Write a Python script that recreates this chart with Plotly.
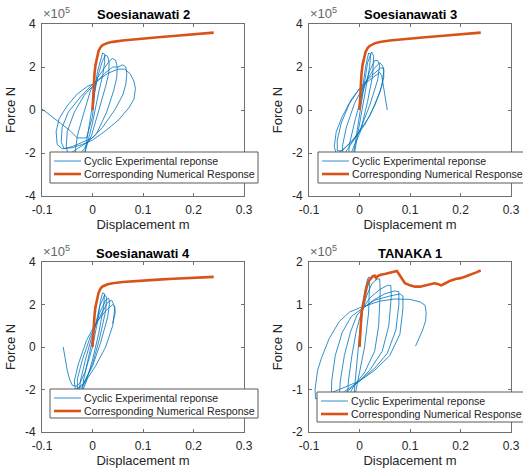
import plotly.graph_objects as go

W, H = 523, 470

titles = ["Soesianawati 2", "Soesianawati 3", "Soesianawati 4", "TANAKA 1"]
exp_name = "Cyclic Experimental reponse"
num_name = "Corresponding Numerical Response"
x_ticks = [-0.1, 0, 0.1, 0.2, 0.3]
x_ticktext = ["-0.1", "0", "0.1", "0.2", "0.3"]
y_ticks_a = [-4, -2, 0, 2, 4]
y_ticktext_a = ["-4", "-2", "0", "2", "4"]
y_ticks_b = [-2, -1, 0, 1, 2]
y_ticktext_b = ["-2", "-1", "0", "1", "2"]

# ---------------- Soesianawati 2 (force in 1e5 N) ----------------
s2_exp_x = [0, 0.004, 0.01, 0.016, 0.02, 0.024, 0.024, 0.02, 0.012, 0.0, -0.008, -0.014, -0.018, -0.014, -0.006, 0.004, 0.012,
            0.02, 0.026, 0.03, 0.033, 0.032, 0.026, 0.012, -0.002, -0.016, -0.03, -0.034, -0.03, -0.018, -0.004, 0.01, 0.024,
            0.034, 0.04, 0.046, 0.049, 0.048, 0.042, 0.028, 0.008, -0.01, -0.03, -0.048, -0.052, -0.05, -0.036, -0.016, 0.004, 0.024, 0.04,
            0.05, 0.06, 0.066, 0.068, 0.066, 0.06, 0.044, 0.02, 0.0, -0.02, -0.04, -0.056, -0.062, -0.06, -0.048, -0.024, 0.0, 0.03, 0.05,
            0.064, 0.074, 0.082, 0.085, 0.082, 0.072, 0.05, 0.024, 0.0, -0.02, -0.04, -0.06, -0.07, -0.072, -0.066, -0.05, -0.03, -0.01, 0.006,
            0.0, -0.012, -0.03, -0.045, -0.07, -0.1]
s2_exp_y = [0, 0.9, 1.8, 2.4, 2.65, 2.6, 2.2, 1.6, 0.8, -0.6, -1.4, -2.0, -2.3, -1.8, -0.6, 0.8, 1.7,
            2.3, 2.55, 2.5, 2.2, 1.7, 1.1, 0.0, -1.2, -1.8, -2.2, -1.9, -1.2, -0.2, 0.9, 1.5, 2.0,
            2.3, 2.4, 2.3, 2.0, 1.5, 0.9, -0.1, -1.1, -1.5, -1.8, -2.1, -1.7, -1.0, -0.1, 0.7, 1.2, 1.7, 2.0,
            2.0, 2.1, 2.0, 1.7, 1.2, 0.7, 0.0, -0.8, -1.3, -1.5, -1.7, -1.8, -1.5, -0.8, -0.1, 0.6, 1.2, 1.7, 1.9,
            1.9, 1.7, 1.35, 1.0, 0.5, 0.1, -0.5, -1.0, -1.4, -1.6, -1.75, -1.8, -1.6, -1.0, -0.4, 0.2, 0.75, 1.1, 1.25,
            -0.3, -1.3, -1.3, -0.95, -0.5, 0.05]
s2_num_x = [0, 0.001, 0.002, 0.004, 0.006, 0.009, 0.012, 0.016, 0.02, 0.03, 0.04, 0.06, 0.08, 0.1, 0.13, 0.16, 0.2, 0.24]
s2_num_y = [0, 0.6, 1.2, 1.7, 2.1, 2.5, 2.75, 2.92, 3.02, 3.12, 3.17, 3.23, 3.28, 3.32, 3.38, 3.44, 3.52, 3.6]

# ---------------- Soesianawati 3 ----------------
s3_exp_x = [0, 0.006, 0.012, 0.018, 0.022, 0.02, 0.01, 0.0, -0.01, -0.014, -0.01, 0.0, 0.008, 0.016,
            0.024, 0.028, 0.026, 0.016, 0.002, -0.016, -0.022, -0.02, -0.008, 0.006, 0.02, 0.03,
            0.036, 0.04, 0.036, 0.02, 0.0, -0.02, -0.032, -0.034, -0.026, -0.01, 0.01, 0.028, 0.04,
            0.046, 0.048, 0.044, 0.03, 0.01, -0.016, -0.036, -0.044, -0.044, -0.036, -0.02, 0.0, 0.024, 0.042,
            0.048, 0.048, 0.04, 0.02, -0.01, -0.03, -0.046, -0.05, -0.046, -0.034, -0.016, 0.004, 0.026, 0.04, 0.044, 0.048, 0.055]
s3_exp_y = [0, 1.0, 2.0, 2.65, 2.6, 2.0, 0.6, -0.8, -2.0, -2.4, -1.8, -0.3, 1.0, 2.2,
            2.7, 2.5, 1.6, 0.4, -1.0, -2.0, -2.3, -1.6, -0.4, 0.8, 1.8, 2.3,
            2.3, 2.1, 1.4, 0.2, -1.0, -1.7, -2.1, -1.7, -0.8, 0.3, 1.2, 1.9, 2.2,
            2.05, 1.8, 1.1, 0.2, -0.7, -1.5, -1.9, -1.9, -1.4, -0.6, 0.3, 1.0, 1.6, 1.95,
            1.95, 1.5, 0.8, -0.3, -1.3, -1.8, -2.05, -1.7, -1.0, -0.3, 0.5, 1.1, 1.5, 1.75, 1.6, 1.0, 0.0]
s3_num_x = [0, 0.001, 0.002, 0.004, 0.006, 0.009, 0.012, 0.016, 0.02, 0.03, 0.04, 0.06, 0.08, 0.1, 0.13, 0.16, 0.2, 0.24]
s3_num_y = [0, 0.6, 1.2, 1.7, 2.1, 2.45, 2.7, 2.88, 2.98, 3.1, 3.16, 3.23, 3.28, 3.32, 3.38, 3.44, 3.52, 3.6]

# ---------------- Soesianawati 4 ----------------
s4_exp_x = [-0.058, -0.055, -0.05, -0.045, -0.04, -0.032, -0.025,
            -0.015, 0.0, 0.01, 0.016, 0.02, 0.024, 0.022, 0.012, 0.0, -0.012, -0.02, -0.018, -0.008, 0.004, 0.014,
            0.024, 0.028, 0.026, 0.014, 0.0, -0.018, -0.026, -0.024, -0.014, 0.0, 0.014, 0.026,
            0.032, 0.034, 0.03, 0.016, 0.0, -0.02, -0.03, -0.03, -0.02, -0.004, 0.014, 0.03,
            0.038, 0.042, 0.044, 0.04, 0.026, 0.006, -0.016, -0.034, -0.036, -0.028, -0.012, 0.006, 0.026, 0.04, 0.044, 0.045, 0.04]
s4_exp_y = [0.0, -0.5, -1.1, -1.55, -1.8, -1.85, -1.7,
            -1.2, 0.0, 1.2, 2.2, 2.55, 2.5, 1.9, 0.6, -0.6, -1.6, -2.1, -1.6, -0.5, 0.8, 1.9,
            2.45, 2.35, 1.7, 0.4, -0.8, -1.8, -2.1, -1.6, -0.6, 0.6, 1.6, 2.2,
            2.3, 2.1, 1.4, 0.2, -0.9, -1.8, -2.0, -1.5, -0.6, 0.5, 1.4, 2.1,
            2.2, 2.0, 1.8, 1.0, 0.0, -0.9, -1.7, -2.0, -1.6, -0.8, 0.3, 1.1, 1.7, 2.0, 1.9, 1.6, 1.1]
s4_num_x = [0, 0.001, 0.002, 0.004, 0.006, 0.009, 0.012, 0.016, 0.02, 0.03, 0.04, 0.06, 0.08, 0.1, 0.13, 0.16, 0.2, 0.24]
s4_num_y = [0, 0.5, 1.0, 1.5, 1.9, 2.3, 2.55, 2.75, 2.85, 2.95, 3.0, 3.06, 3.1, 3.13, 3.17, 3.21, 3.25, 3.3]

# ---------------- TANAKA 1 ----------------
t1_exp_x = [0, 0.005, 0.01, 0.016, 0.019, 0.02, 0.018, 0.01, 0.0, -0.006, -0.01, -0.01, -0.006, 0.0, 0.006,
            0.014, 0.025, 0.035, 0.04, 0.041, 0.038, 0.03, 0.01, -0.01, -0.02, -0.024, -0.022, -0.015, -0.006, 0.006,
            0.02, 0.04, 0.055, 0.062, 0.063, 0.058, 0.045, 0.02, 0.0, -0.02, -0.035, -0.04, -0.038, -0.03, -0.018, -0.005, 0.008,
            0.03, 0.05, 0.07, 0.078, 0.078, 0.072, 0.055, 0.03, 0.0, -0.03, -0.05, -0.056, -0.055, -0.048, -0.034, -0.016, 0.008,
            0.03, 0.06, 0.08, 0.086, 0.086, 0.08, 0.06, 0.03, 0.0, -0.04, -0.075, -0.087, -0.088, -0.083, -0.075, -0.06, -0.04, -0.02, 0.0, 0.02,
            0.04, 0.07, 0.1, 0.12, 0.13, 0.132, 0.131, 0.125, 0.118, 0.111]
t1_exp_y = [0, 0.8, 1.3, 1.6, 1.65, 1.5, 0.8, 0.0, -0.6, -1.0, -1.2, -1.0, -0.4, 0.3, 0.85,
            1.2, 1.5, 1.6, 1.6, 1.3, 0.5, -0.1, -0.6, -0.9, -1.1, -1.2, -0.8, -0.2, 0.4, 0.9,
            1.15, 1.35, 1.45, 1.45, 1.2, 0.5, -0.1, -0.55, -0.8, -1.0, -1.15, -1.2, -0.8, -0.2, 0.35, 0.75, 0.92,
            1.12, 1.25, 1.32, 1.3, 1.0, 0.4, -0.15, -0.5, -0.8, -1.05, -1.2, -1.25, -0.8, -0.2, 0.35, 0.72, 0.93,
            1.1, 1.2, 1.25, 1.2, 0.9, 0.3, -0.2, -0.55, -0.8, -1.0, -1.15, -1.22, -1.0, -0.55, -0.25, 0.2, 0.6, 0.82, 0.92, 1.0,
            1.08, 1.13, 1.12, 1.06, 0.98, 0.8, 0.62, 0.4, 0.2, 0.02]
t1_num_x = [0, 0.001, 0.002, 0.004, 0.007, 0.01, 0.014, 0.018, 0.022, 0.026, 0.03, 0.033, 0.036, 0.042, 0.05, 0.06,
            0.07, 0.074, 0.078, 0.084, 0.09, 0.1, 0.11, 0.12, 0.13, 0.14, 0.148, 0.155, 0.162, 0.17, 0.18, 0.19,
            0.2, 0.21, 0.22, 0.23, 0.24]
t1_num_y = [0, 0.3, 0.55, 0.8, 1.0, 1.2, 1.4, 1.55, 1.62, 1.66, 1.68, 1.62, 1.67, 1.7, 1.72, 1.75,
            1.78, 1.79, 1.72, 1.6, 1.5, 1.45, 1.42, 1.42, 1.45, 1.48, 1.5, 1.48, 1.45, 1.5, 1.56, 1.6,
            1.62, 1.66, 1.7, 1.75, 1.8]

EXP_COLOR = "#0072BD"
NUM_COLOR = "#D95319"
AX_COLOR = "#262626"
LINE_COLOR = "#707070"
FONT = "Liberation Sans, Arial, sans-serif"

panels = [
    (s2_exp_x, s2_exp_y, s2_num_x, s2_num_y),
    (s3_exp_x, s3_exp_y, s3_num_x, s3_num_y),
    (s4_exp_x, s4_exp_y, s4_num_x, s4_num_y),
    (t1_exp_x, t1_exp_y, t1_num_x, t1_num_y),
]

# axes boxes in pixels: (left, right, top, bottom)
boxes = [(42, 244, 24, 196), (309, 511, 24, 196), (42, 244, 262, 432), (309, 511, 262, 432)]
# legend boxes in pixels: (left, right, top, bottom)
leg_boxes = [(50, 258, 152, 183), (318, 530, 152, 183), (50, 258, 389, 418), (317, 530, 392, 422)]

fig = go.Figure()
annotations = []
shapes = []
layout = dict(width=W, height=H, margin=dict(l=0, r=0, t=0, b=0, autoexpand=False),
              paper_bgcolor="white", plot_bgcolor="white", showlegend=False,
              font=dict(family=FONT, color=AX_COLOR, size=12))


def px(xp):
    return xp / W


def py(yp):
    return 1 - yp / H


for i, (ex, ey, nx, ny) in enumerate(panels):
    k = "" if i == 0 else str(i + 1)
    fig.add_trace(go.Scatter(x=ex, y=ey, mode="lines", name=exp_name,
                             line=dict(color=EXP_COLOR, width=0.8),
                             xaxis="x" + k, yaxis="y" + k))
    fig.add_trace(go.Scatter(x=nx, y=ny, mode="lines", name=num_name,
                             line=dict(color=NUM_COLOR, width=2.6),
                             xaxis="x" + k, yaxis="y" + k))
    l, r, t, b = boxes[i]
    yt, ytt = (y_ticks_b, y_ticktext_b) if i == 3 else (y_ticks_a, y_ticktext_a)
    yr = [-2, 2] if i == 3 else [-4, 4]
    common = dict(showline=True, linecolor=LINE_COLOR, linewidth=1, mirror="allticks",
                  ticks="inside", ticklen=3, tickcolor=LINE_COLOR, showgrid=False, zeroline=False,
                  tickfont=dict(size=12, color=AX_COLOR, family=FONT))
    layout["xaxis" + k] = dict(domain=[px(l), px(r)], anchor="y" + k, range=[-0.1, 0.3],
                               tickvals=x_ticks, ticktext=x_ticktext, ticklabelstandoff=3,
                               title=dict(text="Displacement m", font=dict(size=13), standoff=1),
                               **common)
    layout["yaxis" + k] = dict(domain=[py(b), py(t)], anchor="x" + k, range=yr,
                               tickvals=yt, ticktext=ytt, ticklabelstandoff=3,
                               title=dict(text="Force N", font=dict(size=13), standoff=6),
                               **common)
    annotations.append(dict(text="<b>" + titles[i] + "</b>", x=px((l + r) / 2), y=py(t - 9),
                            xref="paper", yref="paper", xanchor="center", yanchor="middle",
                            showarrow=False, font=dict(size=13, color="black", family=FONT)))
    annotations.append(dict(text="×10<sup>5</sup>", x=px(l - 1), y=py(t - 1),
                            xref="paper", yref="paper", xanchor="left", yanchor="bottom",
                            showarrow=False, font=dict(size=13, color="#666666", family=FONT)))

    # legend box (drawn as shapes + text so it has MATLAB's compact size)
    ll, lr, lt, lb = leg_boxes[i]
    shapes.append(dict(type="rect", xref="paper", yref="paper", layer="above",
                       x0=px(ll), x1=px(lr), y0=py(lb), y1=py(lt),
                       fillcolor="white", line=dict(color="#5a5a5a", width=1)))
    row1 = lt + 9
    row2 = lt + 22
    for row, col, wid, name in ((row1, EXP_COLOR, 0.8, exp_name), (row2, NUM_COLOR, 2.6, num_name)):
        shapes.append(dict(type="line", xref="paper", yref="paper", layer="above",
                           x0=px(ll + 4), x1=px(ll + 31), y0=py(row), y1=py(row),
                           line=dict(color=col, width=wid)))
        annotations.append(dict(text=name, x=px(ll + 32), y=py(row), xref="paper", yref="paper",
                                xanchor="left", yanchor="middle", showarrow=False,
                                font=dict(size=10.6, color=AX_COLOR, family=FONT)))

layout["annotations"] = annotations
layout["shapes"] = shapes
fig.update_layout(**layout)
fig.write_html("out.html")
